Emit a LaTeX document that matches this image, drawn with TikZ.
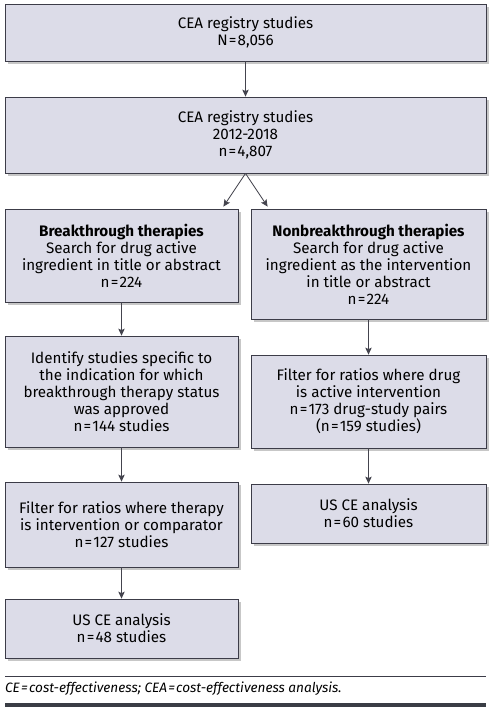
\documentclass[tikz,border=0pt]{standalone}
\usepackage{fontspec}
\setmainfont{Fira Sans}
\usepackage{xcolor}
\usetikzlibrary{arrows.meta,positioning,shadows}
\definecolor{ceafill}{RGB}{220,220,232}
\definecolor{ceaedge}{RGB}{60,60,72}
\definecolor{ceaarrow}{RGB}{68,68,78}
\definecolor{ceabar}{RGB}{58,61,69}
\newcommand{\eqsign}{\kern1.2pt=\kern1.2pt}

\begin{document}
\begin{tikzpicture}[
  x=1pt, y=-1pt,
  box/.style={draw=ceaedge, line width=0.8pt, fill=ceafill, align=center,
              font=\fontsize{15.2}{17}\selectfont, inner sep=0pt,
              drop shadow={shadow xshift=2.5pt, shadow yshift=-3pt,
                           fill=black, opacity=0.22}},
  wide/.style={box, minimum width=481pt},
  col/.style={box, minimum width=233pt},
  arr/.style={-{Stealth[length=7pt, width=6.5pt, inset=1.5pt]}, line width=0.8pt, ceaarrow}
]
\useasboundingbox (0,0) rectangle (497,707);
% main trunk
\node[wide, minimum height=57pt] (all) at (245.5,32.5)
  {CEA registry studies\\N\eqsign8,056};
\node[wide, minimum height=76pt] (recent) at (245.5,135)
  {CEA registry studies\\2012-2018\\n\eqsign4,807};
% breakthrough branch
\node[col, minimum height=93pt] (btsearch) at (121.5,255.5)
  {\textbf{Breakthrough therapies}\\Search for drug active\\ingredient in title or abstract\\n\eqsign224};
\node[col, minimum height=111pt] (btindic) at (121.5,391.5)
  {Identify studies specific to\\the indication for which\\breakthrough therapy status\\was approved\\n\eqsign144 studies};
\node[col, minimum height=85pt] (btratio) at (121.5,524.5)
  {Filter for ratios where therapy\\is intervention or comparator\\n\eqsign127 studies};
\node[col, minimum height=59pt] (btus) at (121.5,628.5)
  {US CE analysis\\n\eqsign48 studies};
% nonbreakthrough branch
\node[col, minimum width=235pt, minimum height=110pt] (nbsearch) at (368.5,264)
  {\textbf{Nonbreakthrough therapies}\\Search for drug active\\ingredient as the intervention\\in title or abstract\\n\eqsign224};
\node[col, minimum width=235pt, minimum height=93pt] (nbratio) at (368.5,401.5)
  {Filter for ratios where drug\\is active intervention\\n\eqsign173 drug-study pairs\\(n\eqsign159 studies)};
\node[col, minimum width=235pt, minimum height=59pt] (nbus) at (368.5,513.5)
  {US CE analysis\\n\eqsign60 studies};
% connectors
\draw[arr] (all) -- (recent);
\draw[arr] (recent.south) -- ([xshift=-15pt, yshift=2pt]btsearch.north east);
\draw[arr] (recent.south) -- ([xshift=17pt, yshift=2pt]nbsearch.north west);
\draw[arr] (btsearch) -- (btindic);
\draw[arr] (btindic) -- (btratio);
\draw[arr] (btratio) -- (btus);
\draw[arr] (nbsearch) -- (nbratio);
\draw[arr] (nbratio) -- (nbus);
% footnote
\coordinate (ruleL) at (5,676);
\coordinate (ruleR) at (486,676);
\draw[ceaedge, line width=0.8pt] (ruleL) -- (ruleR);
\node[anchor=west, inner sep=0pt, font=\fontsize{13.6}{15}\selectfont\itshape]
  (abbrev) at (5,689) {CE\eqsign cost-effectiveness; CEA\eqsign cost-effectiveness analysis.};
\fill[ceabar] (5,702.5) rectangle (486,707);
\end{tikzpicture}
\end{document}
